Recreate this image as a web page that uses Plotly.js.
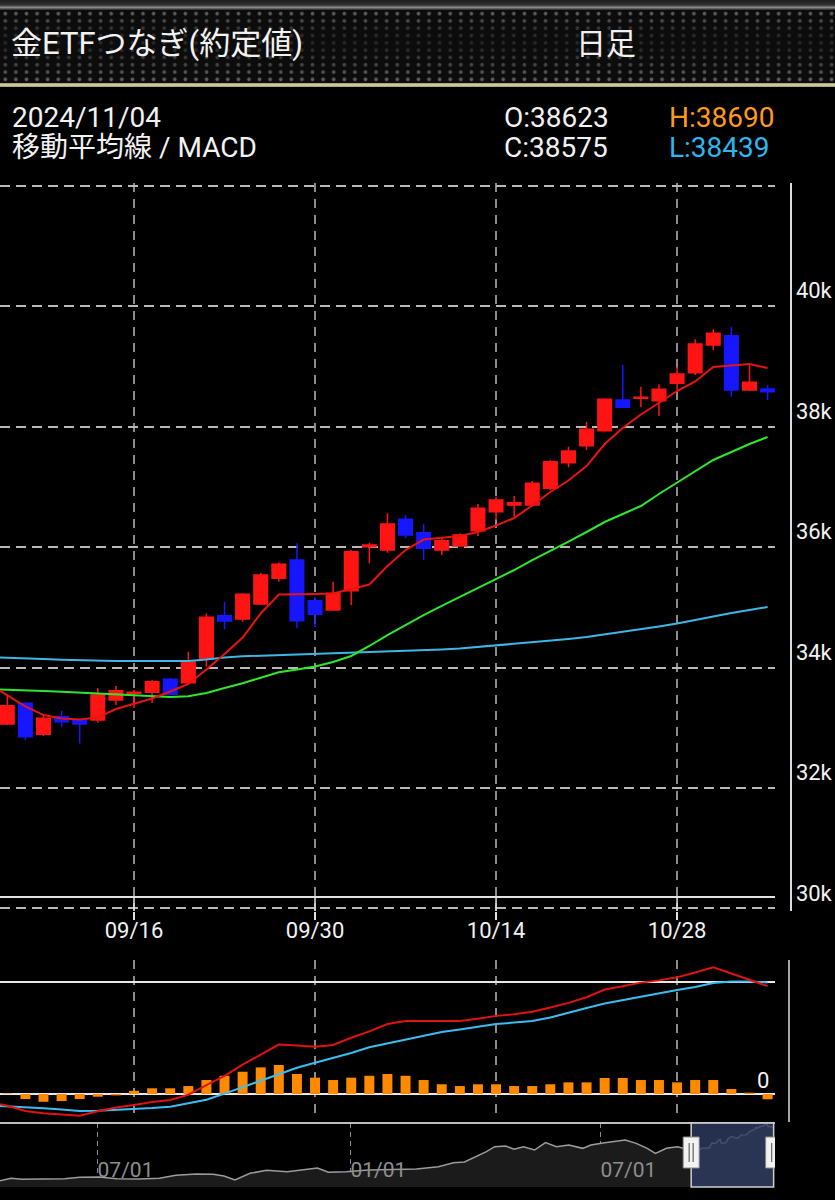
<!DOCTYPE html>
<html><head><meta charset="utf-8">
<script src="https://cdn.plot.ly/plotly-3.0.1.min.js"></script>
<style>
html,body{margin:0;padding:0;background:#000;width:835px;height:1200px;overflow:hidden;}
#hdrTop{position:absolute;left:0;top:0;width:835px;height:10px;background:linear-gradient(#1c1c1c 0,#333 50%,#8a8a8a 75%,#222 100%);}
#hdrBand{position:absolute;left:0;top:10px;width:835px;height:73px;background-color:#0c0c0c;
 background-image:radial-gradient(circle, rgba(100,100,100,1) 0, rgba(100,100,100,1) 1.4px, rgba(0,0,0,0) 2.3px);
 background-size:10.6px 7.3px;}
#hdrShade{position:absolute;left:0;top:10px;width:835px;height:73px;background:linear-gradient(to bottom, rgba(12,12,12,0) 0%, rgba(12,12,12,0.6) 28%, rgba(12,12,12,0.72) 50%, rgba(12,12,12,0.45) 68%, rgba(12,12,12,0) 100%);}
#hdrGold{position:absolute;left:0;top:83px;width:835px;height:4px;background:linear-gradient(#9d976f,#dcd6aa,#9d976f);}
#chart{position:absolute;left:0;top:0;width:835px;height:1200px;}
</style></head>
<body>
<div id="hdrTop"></div><div id="hdrBand"></div><div id="hdrShade"></div><div id="hdrGold"></div>
<div id="chart"></div>
<script>
// ---------- data ----------
const days = ['2024-09-04','2024-09-05','2024-09-06','2024-09-09','2024-09-10','2024-09-11','2024-09-12','2024-09-13',
 '2024-09-16','2024-09-17','2024-09-18','2024-09-19','2024-09-20','2024-09-23','2024-09-24','2024-09-25','2024-09-26','2024-09-27',
 '2024-09-30','2024-10-01','2024-10-02','2024-10-03','2024-10-04','2024-10-07','2024-10-08','2024-10-09','2024-10-10','2024-10-11',
 '2024-10-14','2024-10-15','2024-10-16','2024-10-17','2024-10-18','2024-10-21','2024-10-22','2024-10-23','2024-10-24','2024-10-25',
 '2024-10-28','2024-10-29','2024-10-30','2024-10-31','2024-11-01','2024-11-04'];

// candles (2024-09-05 .. 2024-11-04)
const open  = [33061,33405,32890,33183,33128,33128,33460,33571,33588,33804,33747,34152,34859,34805,35054,35480,35784,35108,34954,35274,36005,35950,36459,36237,35950,36016,36270,36586,36697,36697,36974,37399,37681,37930,38440,38468,38428,38717,38893,39353,39507,38606,38623];
const high  = [33543,33420,33195,33282,33145,33660,33692,33626,33792,33825,34262,34899,35092,35236,35568,35746,36061,35175,35424,35950,36071,36559,36531,36382,36144,36227,36713,36835,36846,37096,37444,37665,38080,38470,39021,38661,38700,38992,39447,39613,39656,39049,38690];
const low   = [33040,32796,32862,33017,32740,33083,33377,33327,33410,33543,33709,34013,34634,34760,35038,35424,34650,34667,34940,35038,35729,35905,36144,35784,35867,36005,36182,36448,36503,36669,36946,37322,37610,37914,38310,38318,38174,38606,38855,39270,38494,38590,38439];
const close = [33365,32850,33156,33100,33062,33543,33615,33588,33764,33555,34091,34833,34771,35215,35535,35713,34776,34883,35231,35922,36033,36382,36199,35978,36104,36199,36642,36780,36735,37057,37416,37593,37953,38451,38318,38484,38617,38871,39369,39547,38606,38734,38575];

// moving averages (2024-09-04 .. 2024-11-04)
const ma5  = [33726,33543,33353,33211,33153,33137,33170,33311,33394,33485,33601,33726,33967,34224,34498,34896,35211,35211,35220,35228,35303,35377,35685,35950,36124,36149,36182,36249,36357,36481,36689,36913,37104,37344,37709,37975,38199,38390,38589,38747,38988,39012,39037,38971];
const ma25 = [33643,33635,33621,33610,33598,33585,33572,33555,33543,33522,33510,33522,33577,33660,33738,33831,33920,33967,34016,34091,34191,34357,34539,34705,34871,35021,35170,35319,35469,35618,35784,35933,36091,36249,36415,36548,36680,36880,37067,37261,37444,37577,37709,37826];
const ma75 = [34174,34166,34153,34141,34129,34119,34113,34108,34108,34108,34108,34108,34133,34166,34186,34196,34207,34216,34224,34232,34240,34252,34265,34274,34282,34299,34315,34340,34365,34390,34415,34440,34473,34506,34548,34589,34631,34680,34730,34788,34855,34904,34954,35004];

// MACD (2024-09-04 .. 2024-11-04), histogram (2024-09-05 ..)
const macd   = [-71,-104,-152,-172,-183,-194,-154,-121,-98,-71,-54,-6,80,163,263,353,442,433,422,438,503,560,625,652,652,652,652,672,698,712,734,772,814,864,933,962,995,1015,1042,1085,1131,1076,1022,964];
const signal = [-103,-110,-118,-128,-139,-152,-150,-143,-137,-125,-113,-80,-51,4,60,116,174,234,280,321,366,417,451,487,522,554,576,598,625,638,652,683,728,768,808,839,871,902,929,956,991,1006,1005,997];
const hist   = [5,-45,-69,-63,-45,-24,-12,29,51,51,71,125,163,199,238,259,179,146,125,146,163,179,163,125,87,71,87,87,71,71,87,104,104,143,143,125,125,104,125,125,45,12,-47];
const macdLevels = [0, 1000];

// navigator history before the visible window
const navDates = ['2023-04-21','2023-04-29','2023-05-07','2023-05-22','2023-06-07','2023-06-18','2023-07-02','2023-07-15','2023-07-31','2023-08-15','2023-08-27','2023-09-11','2023-09-23','2023-10-01','2023-10-09','2023-10-20','2023-11-01','2023-11-16','2023-11-28','2023-12-08','2023-12-16','2023-12-29','2024-01-14','2024-01-30','2024-02-18','2024-03-05','2024-03-16','2024-03-24','2024-04-01','2024-04-09','2024-04-15','2024-04-23','2024-04-29','2024-05-06','2024-05-14','2024-05-22','2024-05-30','2024-06-08','2024-06-18','2024-06-24','2024-07-04','2024-07-12','2024-07-19','2024-07-27','2024-08-04','2024-08-10','2024-08-18','2024-08-26','2024-09-02'];
const navValues = [26040,26580,26350,26430,26510,26820,26900,26510,26430,26580,27280,27600,27520,27130,26190,27750,28450,28140,28530,29000,27990,28140,28530,28690,28760,29310,30240,30400,31650,32810,33980,34140,33360,33980,33200,34920,33980,34370,33590,34370,34920,35230,35540,34760,33590,32420,33590,33980,33360];

// ticks
const xTicks = ['09/16','09/30','10/14','10/28'];
const priceTicks = [30000,32000,34000,36000,38000,40000,42000];
const priceTickText = ['30k','32k','34k','36k','38k','40k',''];
const navTicks = ['2023-07-01','2024-01-01','2024-07-01'];
const navTickText = ['07/01','01/01','07/01'];

// texts
const titleText = '金ETFつなぎ(約定値)';
const periodText = '日足';
const indicatorText = '移動平均線 / MACD';

// ---------- build ----------
const labels = days.map(d => d.slice(5).replace('-', '/'));
const candleLabels = labels.slice(1);
const candleDays = days.slice(1);
const last = close.length - 1;

const W = 835, H = 1200;
const fx = p => p / W, fy = p => 1 - p / H;
const plotRight = fx(775);
const FONT = "Roboto, 'Noto Sans CJK JP', 'Noto Sans', sans-serif";

const traces = [
  {type:'candlestick', x:candleLabels, open:open, high:high, low:low, close:close, xaxis:'x', yaxis:'y',
   increasing:{line:{color:'#ff1414', width:1.5}, fillcolor:'#ff1414'},
   decreasing:{line:{color:'#1616ff', width:1.5}, fillcolor:'#1616ff'},
   whiskerwidth:0, hoverinfo:'skip'},
  {type:'scatter', mode:'lines', x:labels, y:ma75, xaxis:'x', yaxis:'y', line:{color:'#3db7e6', width:2}, hoverinfo:'skip'},
  {type:'scatter', mode:'lines', x:labels, y:ma25, xaxis:'x', yaxis:'y', line:{color:'#2fe62f', width:2}, hoverinfo:'skip'},
  {type:'scatter', mode:'lines', x:labels, y:ma5, xaxis:'x', yaxis:'y', line:{color:'#e8140f', width:2}, hoverinfo:'skip'},
  {type:'bar', x:candleLabels, y:hist, xaxis:'x2', yaxis:'y2', marker:{color:'#ff8a00', line:{width:0}}, hoverinfo:'skip'},
  {type:'scatter', mode:'lines', x:labels, y:signal, xaxis:'x2', yaxis:'y2', line:{color:'#3cbdf0', width:2}, hoverinfo:'skip'},
  {type:'scatter', mode:'lines', x:labels, y:macd, xaxis:'x2', yaxis:'y2', line:{color:'#e01212', width:2}, hoverinfo:'skip'},
  {type:'scatter', mode:'lines', x:navDates.concat(candleDays), y:navValues.concat(close), xaxis:'x3', yaxis:'y3',
   fill:'tozeroy', fillcolor:'#1b1b1b', line:{color:'#9c9c9c', width:1.5}, hoverinfo:'skip'}
];

const catAxis = {
  type:'category', categoryorder:'array', categoryarray:labels, domain:[0, plotRight],
  range:[0.597, 43.41], tickmode:'array', tickvals:xTicks, ticktext:xTicks,
  showgrid:true, gridcolor:'#8c8c8c', gridwidth:1.5, griddash:'9px,7px',
  zeroline:false, showline:false, fixedrange:true, rangeslider:{visible:false}
};

const shapes = [
  {type:'line', xref:'paper', yref:'paper', x0:0, x1:plotRight, y0:fy(897), y1:fy(897), line:{color:'#e2e2e2', width:2}},
  {type:'line', xref:'paper', yref:'paper', x0:0, x1:plotRight, y0:fy(1123), y1:fy(1123), line:{color:'#bdbdbd', width:2}},
  {type:'line', xref:'paper', yref:'paper', x0:fx(789), x1:fx(789), y0:fy(1122), y1:fy(960), line:{color:'#dcdcdc', width:1.5}},
  {type:'rect', xref:'x3', yref:'paper', x0:candleDays[0], x1:candleDays[last], y0:fy(1187), y1:fy(1123),
   fillcolor:'rgba(46,60,98,0.8)', line:{color:'#cfcfcf', width:1.5}, layer:'above'}
];
xTicks.forEach(t => shapes.push({type:'line', xref:'x', yref:'paper', x0:t, x1:t, y0:fy(910.9), y1:fy(897), line:{color:'#e2e2e2', width:1.5}}));
[candleDays[0], candleDays[last]].forEach(d => {
  shapes.push({type:'rect', xref:'x3', yref:'paper', xsizemode:'pixel', xanchor:d, x0:-8, x1:8, y0:fy(1168), y1:fy(1137),
    fillcolor:'#f2f2f2', line:{color:'#8a8a8a', width:1}, layer:'above'});
  [-2, 2].forEach(o => shapes.push({type:'line', xref:'x3', yref:'paper', xsizemode:'pixel', xanchor:d, x0:o, x1:o,
    y0:fy(1162), y1:fy(1143), line:{color:'#6f6f6f', width:1.3}, layer:'above'}));
});

const ann = (text, xpx, ypx, size, color, anchor) => ({text:text, xref:'paper', yref:'paper', x:fx(xpx), y:fy(ypx),
  xanchor:anchor || 'left', yanchor:'middle', showarrow:false, font:{size:size, color:color || '#f2f2f2', family:FONT}});

const annotations = [
  ann(titleText, 9, 43, 31),
  ann(periodText, 574, 43, 30),
  ann(days[days.length - 1].replace(/-/g, '/'), 10, 117, 28),
  ann(indicatorText, 10, 148, 28),
  ann('O:' + open[last], 502, 117, 28),
  ann('C:' + close[last], 502, 148, 28),
  ann('H:' + high[last], 667, 117, 28, '#ff9a1f'),
  ann('L:' + low[last], 667, 148, 28, '#2cb7ee'),
  {text:String(macdLevels[0]), xref:'paper', yref:'y2', x:fx(771), y:macdLevels[0], xanchor:'right', yanchor:'bottom', yshift:-1,
   showarrow:false, font:{size:22, color:'#f2f2f2', family:FONT}}
];

const layout = {
  width:W, height:H, margin:{l:0, r:0, t:0, b:0},
  paper_bgcolor:'rgba(0,0,0,0)', plot_bgcolor:'#000',
  font:{family:FONT, color:'#f2f2f2', size:22},
  showlegend:false, hovermode:false,
  boxgap:0.15, boxgroupgap:0.12, bargap:0.45,
  xaxis:Object.assign({}, catAxis, {anchor:'y', ticks:'outside', ticklen:8, tickwidth:1.5, tickcolor:'#e2e2e2',
    ticklabelstandoff:-8, tickfont:{size:22, color:'#f2f2f2'}}),
  yaxis:{domain:[fy(910.9), fy(183.1)], range:[29960, 42040], side:'right', anchor:'free', position:fx(790),
    tickmode:'array', tickvals:priceTicks, ticktext:priceTickText, ticklabelposition:'outside top', ticks:'',
    showline:true, linecolor:'#dcdcdc', linewidth:1.5, showgrid:true, gridcolor:'#b8b8b8', gridwidth:2, griddash:'10px,6px',
    zeroline:false, tickfont:{size:22, color:'#f2f2f2'}, fixedrange:true},
  xaxis2:Object.assign({}, catAxis, {anchor:'y2', showticklabels:false, ticks:''}),
  yaxis2:{domain:[fy(1120), fy(960)], range:[-232, 1197], anchor:'free', position:fx(789), side:'right',
    tickmode:'array', tickvals:macdLevels, showticklabels:false, ticks:'', showline:false,
    showgrid:true, gridcolor:'#e8e8e8', gridwidth:2, zeroline:false, fixedrange:true},
  xaxis3:{type:'date', domain:[0, plotRight], anchor:'y3', range:['2023-04-21', '2024-11-05'],
    tickmode:'array', tickvals:navTicks, ticktext:navTickText, ticklabelposition:'inside right', ticks:'',
    showgrid:true, gridcolor:'#8a8a8a', gridwidth:1, griddash:'5px,4px', zeroline:false, showline:false,
    tickfont:{size:21, color:'#8e8e8e'}, fixedrange:true},
  yaxis3:{domain:[fy(1187), fy(1123)], range:[24559, 39509], anchor:'x3', visible:false, showgrid:false, fixedrange:true},
  shapes:shapes, annotations:annotations
};

Plotly.newPlot('chart', traces, layout, {staticPlot:true, displayModeBar:false});
</script>
</body></html>
